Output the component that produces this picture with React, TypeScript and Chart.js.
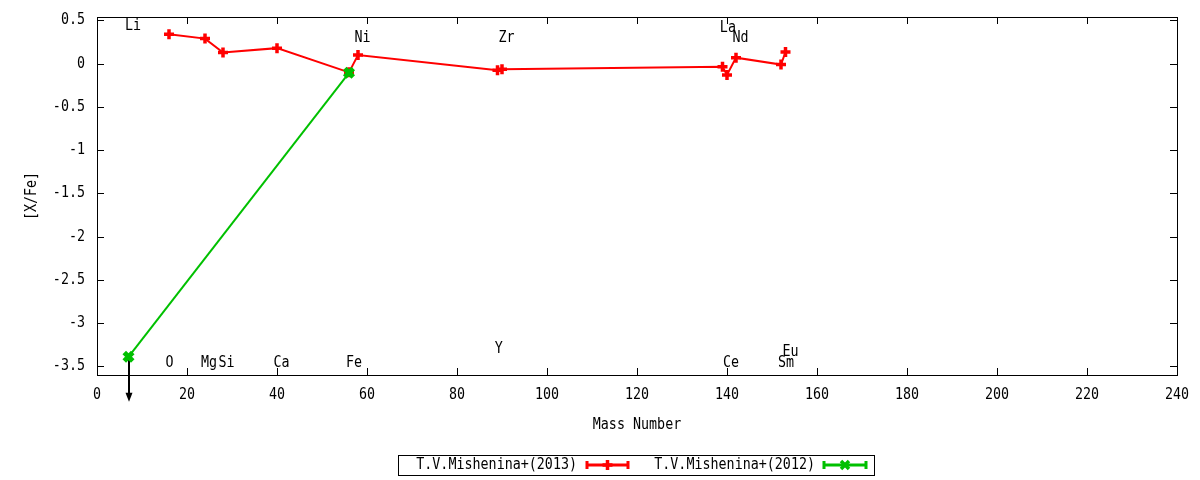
import React, { useEffect, useRef } from "react";
import { Chart, registerables } from "chart.js";

Chart.register(...registerables);

// ---- data ----
const massRed = [16, 24, 28, 40, 56, 58, 89, 90, 139, 140, 142, 152, 153];
const xfeRed = [0.34, 0.29, 0.13, 0.18, -0.1, 0.1, -0.075, -0.065, -0.035, -0.13, 0.07, -0.01, 0.135];
const massGreen = [7, 56];
const xfeGreen = [-3.39, -0.105];
const upperLimitMass = [7];
const upperLimitValue = [-3.39];
const labelText = ["Li", "O", "Mg", "Si", "Ca", "Fe", "Ni", "Y", "Zr", "La", "Ce", "Nd", "Sm", "Eu"];
const labelX = [8, 16.1, 24.9, 28.8, 41, 57.1, 59, 89.3, 91, 140.2, 140.9, 143, 153.1, 154.1];
const labelY = [0.43, -3.46, -3.46, -3.46, -3.46, -3.46, 0.3, -3.3, 0.3, 0.41, -3.46, 0.3, -3.46, -3.33];
const xTicks = [0, 20, 40, 60, 80, 100, 120, 140, 160, 180, 200, 220, 240];
const yTicks = [0.5, 0, -0.5, -1, -1.5, -2, -2.5, -3, -3.5];
const seriesNames = ["T.V.Mishenina+(2013)", "T.V.Mishenina+(2012)"];
const xTitle = "Mass Number";
const yTitle = "[X/Fe]";

const RED = "#ff0000";
const GREEN = "#00c000";
const FONT = '"DejaVu Sans Mono", monospace';
const FONT_PX = 15;
const SQUEEZE = 0.89;

function text(ctx: CanvasRenderingContext2D, t: string, x: number, y: number, align: CanvasTextAlign, rot = 0) {
  ctx.save();
  ctx.translate(x, y);
  if (rot) ctx.rotate(rot);
  ctx.scale(SQUEEZE, 1);
  ctx.textAlign = align;
  ctx.textBaseline = "middle";
  ctx.font = `${FONT_PX}px ${FONT}`;
  ctx.fillStyle = "#000";
  ctx.fillText(t, 0, 0);
  ctx.restore();
}

const gnuplotPlugin = {
  id: "gnuplotDecor",
  beforeDatasetsDraw(chart: any) {
    const { ctx, scales } = chart;
    const x = scales.x, y = scales.y;
    ctx.save();
    ctx.strokeStyle = "#000";
    ctx.fillStyle = "#000";
    ctx.lineWidth = 2;
    upperLimitMass.forEach((m, i) => {
      const px = Math.round(x.getPixelForValue(m));
      const py = y.getPixelForValue(upperLimitValue[i]);
      const tip = py + 45;
      ctx.beginPath();
      ctx.moveTo(px, py);
      ctx.lineTo(px, tip - 6);
      ctx.stroke();
      ctx.beginPath();
      ctx.moveTo(px - 3.5, tip - 9);
      ctx.lineTo(px + 3.5, tip - 9);
      ctx.lineTo(px, tip);
      ctx.closePath();
      ctx.fill();
    });
    ctx.restore();
  },
  afterDraw(chart: any) {
    const { ctx, chartArea, scales } = chart;
    const x = scales.x, y = scales.y;
    const { left, right, top, bottom } = chartArea;
    ctx.save();
    // frame
    ctx.strokeStyle = "#000";
    ctx.lineWidth = 1;
    ctx.strokeRect(Math.round(left) + 0.5, Math.round(top) + 0.5, Math.round(right - left), Math.round(bottom - top));
    // inward ticks
    const tl = 7;
    ctx.beginPath();
    xTicks.forEach((v) => {
      const px = Math.round(x.getPixelForValue(v)) + 0.5;
      ctx.moveTo(px, bottom);
      ctx.lineTo(px, bottom - tl);
      ctx.moveTo(px, top);
      ctx.lineTo(px, top + tl);
    });
    yTicks.forEach((v) => {
      const py = Math.round(y.getPixelForValue(v)) + 0.5;
      ctx.moveTo(left, py);
      ctx.lineTo(left + tl, py);
      ctx.moveTo(right, py);
      ctx.lineTo(right - tl, py);
    });
    ctx.stroke();

    // tick labels
    xTicks.forEach((v) => text(ctx, String(v), x.getPixelForValue(v), bottom + 20, "center"));
    yTicks.forEach((v) => text(ctx, String(v), left - 12, y.getPixelForValue(v), "right"));

    // element labels
    labelText.forEach((t, i) => {
      text(ctx, t, x.getPixelForValue(labelX[i]), y.getPixelForValue(labelY[i]), "center");
    });

    // axis titles
    text(ctx, xTitle, (left + right) / 2, 425, "center");
    text(ctx, yTitle, 32, 196, "center", -Math.PI / 2);

    // legend
    ctx.lineWidth = 1;
    ctx.strokeStyle = "#000";
    ctx.strokeRect(398.5, 455.5, 476, 20);
    const ly = 465;
    const entries = [
      { name: seriesNames[0], color: RED, textEnd: 577, s0: 587, s1: 628, marker: "plus" },
      { name: seriesNames[1], color: GREEN, textEnd: 815, s0: 824, s1: 866, marker: "x" },
    ];
    entries.forEach((e) => {
      text(ctx, e.name, e.textEnd, ly, "right");
      ctx.strokeStyle = e.color;
      ctx.lineWidth = 3;
      ctx.beginPath();
      ctx.moveTo(e.s0, ly);
      ctx.lineTo(e.s1, ly);
      ctx.moveTo(e.s0, ly - 4);
      ctx.lineTo(e.s0, ly + 4);
      ctx.moveTo(e.s1, ly - 4);
      ctx.lineTo(e.s1, ly + 4);
      ctx.stroke();
      const cx = (e.s0 + e.s1) / 2;
      ctx.lineWidth = 3.5;
      ctx.beginPath();
      if (e.marker === "plus") {
        ctx.moveTo(cx - 5, ly);
        ctx.lineTo(cx + 5, ly);
        ctx.moveTo(cx, ly - 5);
        ctx.lineTo(cx, ly + 5);
      } else {
        ctx.moveTo(cx - 4, ly - 4);
        ctx.lineTo(cx + 4, ly + 4);
        ctx.moveTo(cx + 4, ly - 4);
        ctx.lineTo(cx - 4, ly + 4);
      }
      ctx.stroke();
    });
    ctx.restore();
  },
};

export default function App() {
  const ref = useRef<HTMLCanvasElement | null>(null);

  useEffect(() => {
    if (!ref.current) return;
    const chart = new Chart(ref.current, {
      type: "line",
      data: {
        datasets: [
          {
            label: seriesNames[0],
            data: massRed.map((m, i) => ({ x: m, y: xfeRed[i] })),
            borderColor: RED,
            backgroundColor: RED,
            borderWidth: 2,
            pointStyle: "cross",
            pointRadius: 5,
            pointBorderWidth: 3.5,
            pointBorderColor: RED,
            tension: 0,
            order: 2,
          },
          {
            label: seriesNames[1],
            data: massGreen.map((m, i) => ({ x: m, y: xfeGreen[i] })),
            borderColor: GREEN,
            backgroundColor: GREEN,
            borderWidth: 2,
            pointStyle: "crossRot",
            pointRadius: 6,
            pointBorderWidth: 5,
            pointBorderColor: GREEN,
            tension: 0,
            order: 1,
          },
        ],
      },
      options: {
        animation: false,
        responsive: true,
        maintainAspectRatio: false,
        layout: { padding: { left: 0, top: 17, right: 23, bottom: 0 } },
        plugins: { legend: { display: false }, tooltip: { enabled: false }, title: { display: false } },
        scales: {
          x: {
            type: "linear",
            min: 0,
            max: 240,
            grid: { display: false },
            border: { display: false },
            afterBuildTicks: (s: any) => {
              s.ticks = xTicks.map((v) => ({ value: v }));
            },
            afterFit: (s: any) => {
              s.height = 105;
            },
            ticks: { display: false },
          },
          y: {
            type: "linear",
            min: -3.6,
            max: 0.54,
            grid: { display: false },
            border: { display: false },
            afterBuildTicks: (s: any) => {
              s.ticks = yTicks.map((v) => ({ value: v }));
            },
            afterFit: (s: any) => {
              s.width = 97;
            },
            ticks: { display: false },
          },
        },
      },
      plugins: [gnuplotPlugin],
    });
    return () => chart.destroy();
  }, []);

  return (
    <div style={{ position: "absolute", left: 0, top: 0, width: 1200, height: 480, background: "#fff" }}>
      <canvas ref={ref} />
    </div>
  );
}
